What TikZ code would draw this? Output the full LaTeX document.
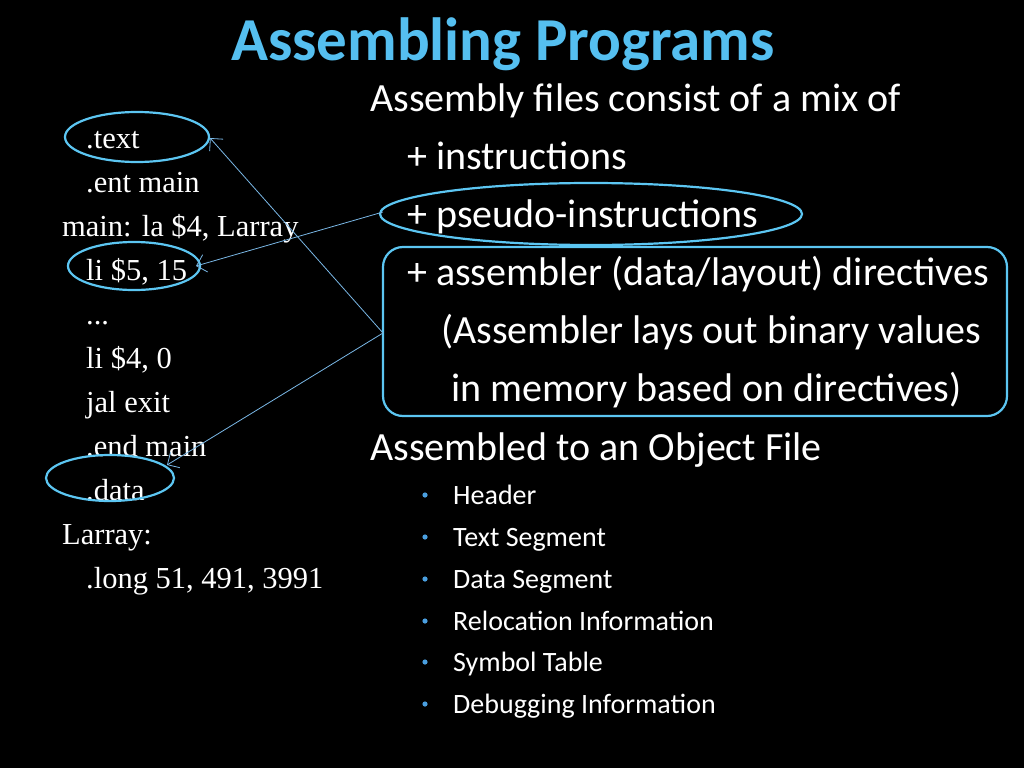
\documentclass[tikz,border=0pt]{standalone}
\usepackage{fontspec}
\setmainfont{Carlito}
\newfontfamily\codefont{Liberation Serif}
\definecolor{titleblue}{HTML}{55BFF0}
\definecolor{ringblue}{HTML}{5CC6F2}
\definecolor{linkblue}{HTML}{7AB8E6}
\definecolor{dotblue}{HTML}{4A9FE0}
\tikzset{
  code/.style={anchor=base west, text=white, inner sep=0pt, font=\codefont\fontsize{30.5}{30}\selectfont},
  body/.style={anchor=base west, text=white, inner sep=0pt, font=\fontsize{40}{40}\selectfont},
  item/.style={anchor=base west, text=white, inner sep=0pt, font=\fontsize{28}{28}\selectfont},
  ring/.style={draw=ringblue, line width=2.2pt},
  link/.style={draw=linkblue, line width=0.8pt, -{Straight Barb[length=9pt]}}
}
\usetikzlibrary{arrows.meta}
\begin{document}
\begin{tikzpicture}[x=1pt, y=-1pt]
  \fill[black] (0,0) rectangle (1024,768);
  \useasboundingbox (0,0) rectangle (1024,768);
  \node[anchor=base, text=titleblue, font=\bfseries\fontsize{61}{61}\selectfont] (title) at (503,60) {Assembling Programs};
  % assembly source
  \node[code] (ltext) at (86,148) {.text};
  \node[code] (lent) at (86,192) {.ent main};
  \node[code] (lmain) at (62,236) {main: la \$4, Larray};
  \node[code] (lli) at (86,280) {li \$5, 15};
  \node[code] (ldots) at (86,324) {...};
  \node[code] (lzero) at (86,368) {li \$4, 0};
  \node[code] (ljal) at (86,412) {jal exit};
  \node[code] (lend) at (86,456) {.end main};
  \node[code] (ldata) at (86,500) {.data};
  \node[code] (llab) at (62,544) {Larray:};
  \node[code] (llong) at (86,588) {.long 51, 491, 3991};
  % description
  \node[body] (mix) at (370,111) {Assembly files consist of a mix of};
  \node[body] (instr) at (407,169) {+ instructions};
  \node[body] (pseudo) at (407,227) {+ pseudo-instructions};
  \node[body] (direct) at (407,285) {+ assembler (data/layout) directives};
  \node[body] (lays) at (441,343) {(Assembler lays out binary values};
  \node[body] (memory) at (451,401) {in memory based on directives)};
  \node[body] (object) at (370,460) {Assembled to an Object File};
  \foreach \y/\name/\txt in {504/hdr/Header, 546/tseg/Text Segment, 588/dseg/Data Segment,
      630/reloc/Relocation Information, 671/sym/Symbol Table, 713/dbg/Debugging Information} {
    \node[item] (\name) at (453,\y) {\txt};
    \fill[dotblue] (425,\y-9) circle (2.6);
  }
  % highlights
  \draw[ring] (137,137) ellipse (72 and 25);
  \draw[ring] (134,266) ellipse (66 and 24);
  \draw[ring] (110,478) ellipse (64 and 23);
  \draw[ring] (591,214) ellipse (211 and 31);
  \draw[ring, rounded corners=20pt] (383,247) rectangle (1007,416);
  \coordinate (dirL) at (383,333);
  \coordinate (pseL) at (383,212);
  \draw[link] (dirL) -- (210,138);
  \draw[link] (pseL) -- (196,266);
  \draw[link] (dirL) -- (167,465);
\end{tikzpicture}
\end{document}
